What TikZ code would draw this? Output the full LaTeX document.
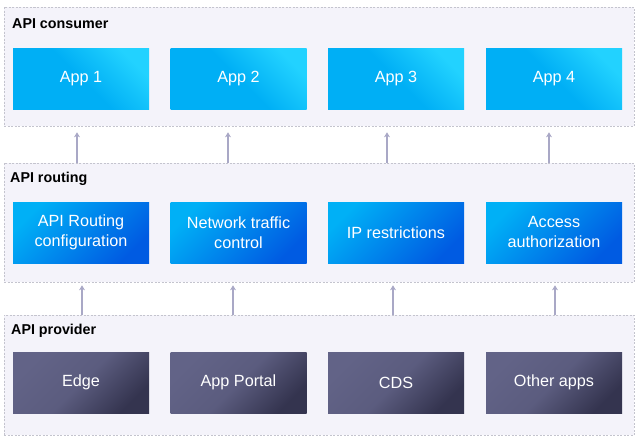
\documentclass[tikz,border=0pt]{standalone}
\usepackage{fontspec}
\setmainfont{Liberation Sans}
\definecolor{layerfill}{HTML}{F4F3FA}
\definecolor{layerline}{HTML}{C4C4CE}
\definecolor{arrowgray}{HTML}{A9A8C6}
\definecolor{cyanlight}{HTML}{22D2FF}
\definecolor{cyanmid}{HTML}{00AFF5}
\definecolor{bluelight}{HTML}{00B0F6}
\definecolor{bluedark}{HTML}{005BE2}
\definecolor{slatelight}{HTML}{626387}
\definecolor{slatedark}{HTML}{34344F}
\tikzset{
  layer/.style={draw=layerline, fill=layerfill, dash pattern=on 2pt off 1.5pt, line width=0.6pt,
    minimum width=630pt, minimum height=119pt, inner sep=0pt},
  layertitle/.style={anchor=west, font=\fontsize{14.3}{17}\selectfont\bfseries, inner sep=0pt},
  box/.style={minimum width=136pt, minimum height=61pt, inner sep=0pt, text=white, align=center,
    font=\fontsize{16.2}{20}\selectfont},
  appbox/.style={box, top color=cyanlight, bottom color=cyanmid, middle color=cyanmid, shading angle=-45},
  routebox/.style={box, top color=bluelight, bottom color=bluedark, shading angle=45},
  provbox/.style={box, top color=slatelight, bottom color=slatedark, middle color=slatelight!85!slatedark, shading angle=45},
  uparrow/.style={draw=arrowgray, line width=1.6pt, -{Stealth[length=5pt,width=6pt]}}
}
\usetikzlibrary{arrows.meta}
\begin{document}
\begin{tikzpicture}[x=1pt, y=-1pt]
  \useasboundingbox (0,0) rectangle (640,442);

  % Layers
  \node[layer] (consumer) at (319,66.5) {};
  \node[layer] (routing) at (319,222.5) {};
  \node[layer, minimum height=120pt] (provider) at (319,375) {};
  \node[layertitle] (consumertitle) at (12,24) {API consumer};
  \node[layertitle] (routingtitle) at (10,179) {API routing};
  \node[layertitle] (providertitle) at (11,331) {API provider};

  % Consumer apps
  \node[appbox] (app1) at (81,78.5) {App 1};
  \node[appbox] (app2) at (238.5,78.5) {App 2};
  \node[appbox] (app3) at (396,78.5) {App 3};
  \node[appbox] (app4) at (554,78.5) {App 4};

  % Routing features
  \node[routebox] (config) at (81,232.5) {API Routing\\configuration};
  \node[routebox] (traffic) at (238.5,232.5) {Network traffic\\control};
  \node[routebox] (iprestrict) at (396,232.5) {IP restrictions};
  \node[routebox] (access) at (554,232.5) {Access\\authorization};

  % Providers
  \node[provbox] (edge) at (81,382.5) {Edge};
  \node[provbox] (portal) at (238.5,382.5) {App Portal};
  \node[provbox] (cds) at (396,382.5) {CDS};
  \node[provbox] (otherapps) at (554,382.5) {Other apps};

  % Arrows
  \foreach \b/\s in {app1/-4, app2/-10.5, app3/-9, app4/-5}
    \draw[uparrow, shorten >=6pt] ([xshift=\s pt]\b.south |- routing.north) -- ([xshift=\s pt]\b.south |- consumer.south);
  \foreach \b/\s in {config/1, traffic/-5.5, iprestrict/-3, access/1}
    \draw[uparrow, shorten >=3pt] ([xshift=\s pt]\b.south |- provider.north) -- ([xshift=\s pt]\b.south |- routing.south);
\end{tikzpicture}
\end{document}
